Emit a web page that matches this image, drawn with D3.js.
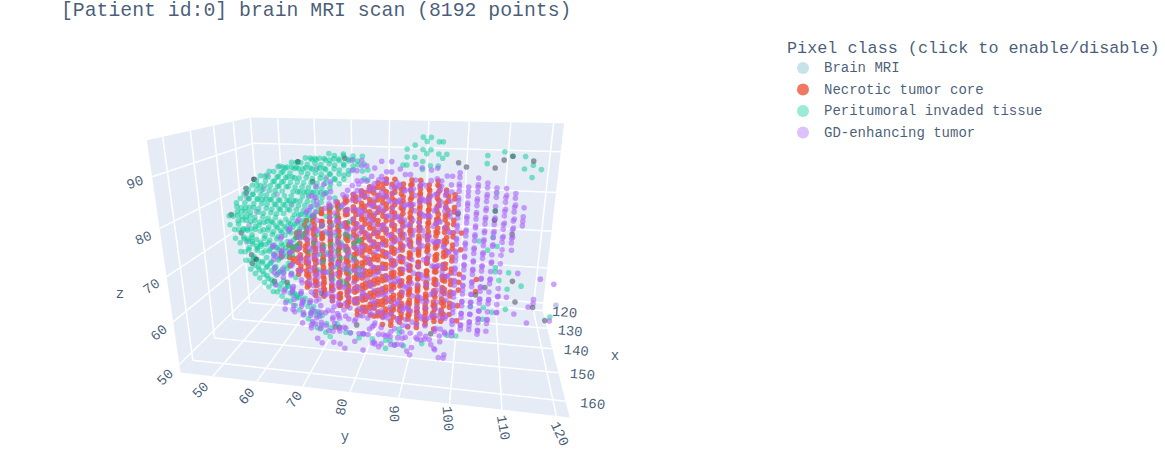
<!DOCTYPE html>
<html>
<head>
<meta charset="utf-8">
<script src="https://cdn.jsdelivr.net/npm/d3@7"></script>
<style>
  html, body { margin: 0; padding: 0; background: #fff; overflow: hidden; }
  text { font-family: "Liberation Mono", "Courier New", monospace; fill: #2a3f5f; fill-opacity: 0.85; }
</style>
</head>
<body>
<script>
const chartTitle = "[Patient id:0] brain MRI scan (8192 points)";
const legendTitle = "Pixel class (click to enable/disable)";
const classNames = ["Brain MRI", "Necrotic tumor core", "Peritumoral invaded tissue", "GD-enhancing tumor"];

const xTicks = [120, 130, 140, 150, 160];
const yTicks = [50, 60, 70, 80, 90, 100, 110, 120];
const zTicks = [50, 60, 70, 80, 90];
const xDomain = [119.5, 165];
const yDomain = [42.5, 122.4];
const zDomain = [48, 96.7];

const brainDark = [[150,66,[91]],[150,55,[69]],[150,56,[87]]];
const brainGrey = [
  [150,76,[92]],[150,54,[85,84,70,68]],[150,50,[79]],[150,52,[75]],[150,69,[87]],
  [150,59,[64]],[150,62,[64]],[150,70,[62]],[150,73,[54]],[150,74,[54]],[150,78,[55]],
  [140,106,[62]],[140,112,[64]],[140,104,[60]],[140,117,[58]],[140,120,[55]],[140,113,[59]],
  [140,94,[49]],[140,107,[80,78]],[140,111,[75]],[140,99,[79]],
  [122,100,[86]],[122,107,[86]],[122,109,[88]],[122,111,[89]],[122,116,[88]],[122,98,[87]]
];
const brainBlue = [
  [150,53,[73]],[150,59,[88]],[150,62,[90]],[150,54,[83,77]],[150,58,[85]],
  [150,66,[77]],[150,60,[72]],[150,64,[82]],[150,72,[88]],[150,56,[80]],[150,61,[84]],
  [150,68,[84]],[150,63,[76]],[150,70,[90]],[140,107,[84]],[140,122,[59]]
];

const necroticRows = [
  [135,58,[63,64,66,67]],
  [145,59,[68,69]],
  [135,60,[61,62,64,65,67,68,70,71]],
  [145,61,[66,68,69,71]],
  [135,62,[57,59,60,62,63,65,66,68,69,71,72,74]],
  [145,63,[64,65,67,68,70,71,73,74]],
  [135,64,[57,58,60,61,63,64,66,67,69,70,72,73,75]],
  [145,65,[61,62,64,65,67,68,70,71,73,74,76]],
  [135,66,[55,56,58,59,61,62,64,65,67,68,70,71,73,74,76,77]],
  [145,67,[59,60,62,63,65,66,68,69,71,72,74,75,77,78]],
  [135,68,[54,56,57,59,60,62,63,65,66,68,69,71,72,74,75,77,78]],
  [145,69,[59,61,62,64,65,67,68,70,71,73,74,76,77,79]],
  [135,70,[52,54,55,57,58,60,61,63,64,66,67,69,70,72,73,75,76,78,79]],
  [145,71,[58,59,61,62,64,65,67,68,70,71,73,74,76,77,79,80]],
  [135,72,[52,53,55,56,58,59,61,62,64,65,67,68,70,71,73,74,76,77,79,80]],
  [145,73,[57,59,60,62,63,65,66,68,69,71,72,74,75,77,78,80,81]],
  [135,74,[53,54,56,57,59,60,62,63,65,66,68,69,71,72,74,75,77,78,80,81]],
  [145,75,[58,59,61,62,64,65,67,68,70,71,73,74,76,77,79,80,82]],
  [135,76,[51,52,54,55,57,58,60,61,63,64,66,67,69,70,72,73,75,76,78,79,81,82]],
  [145,77,[55,56,58,59,61,62,64,65,67,68,70,71,73,74,76,77,79,80,82,83]],
  [135,78,[50,52,53,55,56,58,59,61,62,64,65,67,68,70,71,73,74,76,77,79,80,82,83]],
  [145,79,[56,57,59,60,62,63,65,66,68,69,71,72,74,75,77,78,80,81,83,84]],
  [135,80,[50,51,53,54,56,57,59,60,62,63,65,66,68,69,71,72,74,75,77,78,80,81,83,84]],
  [145,81,[55,57,58,60,61,63,64,66,67,69,70,72,73,75,76,78,79,81,82,84,85]],
  [135,82,[51,52,54,55,57,58,60,61,63,64,66,67,69,70,72,73,75,76,78,79,81,82,84,85]],
  [145,83,[53,55,56,58,59,61,62,64,65,67,68,70,71,73,74,76,77,79,80,82,83,85,86]],
  [135,84,[50,52,53,55,56,58,59,61,62,64,65,67,68,70,71,73,74,76,77,79,80,82,83,85]],
  [145,85,[53,54,56,57,59,60,62,63,65,66,68,69,71,72,74,75,77,78,80,81,83,84,86]],
  [135,86,[50,51,53,54,56,57,59,60,62,63,65,66,68,69,71,72,74,75,77,78,80,81,83,84]],
  [145,87,[54,55,57,58,60,61,63,64,66,67,69,70,72,73,75,76,78,79,81,82,84,85]],
  [135,88,[51,52,54,55,57,58,60,61,63,64,66,67,69,70,72,73,75,76,78,79,81,82,84,85]],
  [145,89,[53,55,56,58,59,61,62,64,65,67,68,70,71,73,74,76,77,79,80,82,83,85,86]],
  [135,90,[50,52,53,55,56,58,59,61,62,64,65,67,68,70,71,73,74,76,77,79,80,82,83,85]],
  [145,91,[53,54,56,57,59,60,62,63,65,66,68,69,71,72,74,75,77,78,80,81,83,84,86]],
  [135,92,[50,51,53,54,56,57,59,60,62,63,65,66,68,69,71,72,74,75,77,78,80,81,83,84]],
  [145,93,[54,55,57,58,60,61,63,64,66,67,69,70,72,73,75,76,78,79,81,82,84,85]],
  [135,94,[51,52,54,55,57,58,60,61,63,64,66,67,69,70,72,73,75,76,78,79,81,82,84,85]],
  [145,95,[53,55,56,58,59,61,62,64,65,67,68,70,71,73,74,76,77,79,80,82,83,85,86]],
  [135,96,[50,52,53,55,56,58,59,61,62,64,65,67,68,70,71,73,74,76,77,79,80,82,83]],
  [145,97,[56,57,59,60,62,63,65,66,68,69,71,72,74,75,77,78,80,81,83,84]],
  [135,98,[52,54,55,57,58,60,61,63,64,66,67,69,70,72,73,75,76,78,79,81,82]],
  [138,100,[52,56,60,62,64,70,74]],
  [138,104,[60,63]]
];

const peritumoralRows = [
  [151,50,[77,79]],[147,50,[76,78,80]],
  [151,51,[74,76,79]],[147,51,[73,75,77,79]],
  [151,52,[71,73,76,78,80,82]],[147,52,[70,72,75,77,79,81]],
  [151,53,[69,71,74,76,79,81,83]],[147,53,[68,72,73,75,78,80,82]],
  [151,54,[67,69,72,74,76,79,81,84]],[147,54,[66,70,71,75,77,80,83]],
  [151,55,[66,68,70,73,75,78,80,83,85]],[147,55,[65,67,71,72,76,79,82,84]],
  [151,56,[65,67,69,72,74,77,79,82,84,86]],[147,56,[64,66,70,73,75,78,81,83,85]],
  [151,57,[64,66,69,71,73,76,78,81,83,86,87]],[147,57,[63,67,70,72,75,77,80,82,85]],
  [151,58,[63,65,68,70,73,75,78,80,83,85,88]],[147,58,[62,66,69,71,74,77,79,82,84,87]],
  [151,59,[62,64,67,69,72,74,77,79,82,84,87,88]],[147,59,[61,65,68,71,73,76,78,81,83,86]],
  [151,60,[62,66,68,71,73,76,78,81,83,86,89]],[147,60,[63,65,70,72,75,77,80,82,85,87]],
  [151,61,[61,64,67,70,72,75,77,80,82,85,87,89]],[147,61,[62,66,69,71,74,76,79,81,84,86,88]],
  [151,62,[60,63,68,71,73,76,78,81,83,86,88,90]],[147,62,[61,65,70,72,75,77,80,82,85,87,89]],
  [151,63,[60,62,69,72,74,77,79,82,84,87,89,90]],[147,63,[59,64,71,73,76,78,81,83,86,88]],
  [151,64,[59,62,71,73,76,78,81,83,86,88,90]],[147,64,[60,72,75,77,80,82,85,87,89]],
  [151,65,[58,61,73,75,78,80,83,85,88,90,91]],[147,65,[59,74,77,79,82,84,87,89]],
  [151,66,[57,60,75,77,80,82,85,87,90,91]],[147,66,[58,76,79,81,84,86,89]],
  [151,67,[56,59,76,79,81,84,86,89,91]],[147,67,[57,78,80,83,85,88,90]],
  [151,68,[55,58,72,78,80,83,85,88,90,92]],[147,68,[56,79,82,84,87,89,91]],
  [151,69,[54,57,74,80,82,85,87,90,92]],[147,69,[55,70,81,84,86,89,91]],
  [151,70,[54,68,76,81,84,86,89,91,92]],[147,70,[53,72,83,85,88,90]],
  [151,71,[53,70,78,83,85,88,90,92]],[147,71,[52,66,75,84,87,89,91]],
  [151,72,[52,72,80,85,87,90,92]],[147,72,[69,77,86,88,91]],
  [151,73,[66,74,82,86,89,91,93]],[147,73,[71,79,87,90,92]],
  [151,74,[69,76,84,88,90,92]],[147,74,[64,73,81,89,91]],
  [151,75,[71,78,87,89,92]],[147,75,[67,75,88,90,92]],
  [151,76,[65,73,88,91,93]],[147,76,[70,78,89,91]],
  [151,77,[68,76,89,92]],[147,77,[73,90,92]],
  [151,78,[71,90,92]],[147,78,[66,74,91]],
  [151,79,[69,75,91]],[147,79,[89,92]],
  [150,80,[88,91]],[151,81,[88,90]],
  [122,84,[86]],[122,85,[90,88,86]],[122,87,[91,88]],[122,89,[93,90,87,85]],[122,90,[92,89]],
  [122,91,[93,90,86]],[122,93,[92,89,86]],[122,94,[92,88]],[122,95,[89]],
  [122,105,[89,87]],[122,109,[90]],[122,111,[89]],[122,114,[89,86]],[122,116,[87,84]],[122,118,[86]],
  [140,108,[56,66,72,67]],[140,106,[54,57,71]],[140,103,[57]],[140,111,[57,66,62]],[140,109,[64]],
  [140,114,[63]],[140,121,[56]],[140,100,[49]],[140,98,[49]],[140,107,[80,74]],[140,104,[73]],
  [152,85,[51,53]],[152,86,[53]],[152,87,[52]],[152,89,[52]],[152,93,[53]],[152,88,[56,55]],
  [152,82,[53]],[152,80,[54]],[152,79,[53]],[152,77,[54]],[152,76,[54]],[152,74,[56]],
  [152,70,[58]],[152,68,[58]],[152,64,[62]],[152,65,[62]],[152,63,[64]]
];

const enhancingRows = [
  [152,60,[67,70,73]],[154,61,[65,69,72,74]],[152,62,[66,71,75]],[154,63,[61,64,68,73,76]],
  [152,64,[63,67,72,77]],[154,65,[59,62,65,70,75,78]],[152,66,[60,63,68,73,79]],
  [154,67,[59,62,66,71,76,80]],[152,68,[55,58,61,65,70,75,81]],[154,69,[57,60,64,69,74,78,82]],
  [152,73,[54,57,59,63,67,72,77,83]],[154,75,[56,59,62,66,71,75,80,84]],
  [152,76,[55,58,61,65,70,74,79,83,85]],[154,70,[53,58,62,68,72,76,81,85]],
  [152,77,[54,60,64,69,73,78,82,86]],[154,71,[52,57,61,66,71,75,80,84,87]],
  [152,72,[54,59,63,68,72,77,82,85,87]],[154,74,[57,61,65,70,74,79,83,86,88]],
  [152,87,[52,56,62,67,71,76,81,84,87,88]],[154,93,[55,60,64,69,73,78,82,85,88]],
  [152,82,[52,56,59,62,66,70,75,80,83,87,89]],[154,96,[53,58,61,64,68,72,77,81,85,88,89]],
  [152,79,[54,60,65,69,74,79,82,86,88,90]],[154,90,[52,58,62,67,71,76,80,84,87,90]],
  [152,85,[54,59,64,68,73,78,81,85,88,90]],[154,98,[52,57,61,66,70,75,79,83,87,90]],
  [152,81,[54,58,63,67,72,77,81,85,88,91]],[154,94,[56,60,64,69,74,78,82,86,89,91]],
  [152,78,[52,57,62,66,71,76,80,84,87,90,92]],[154,88,[55,59,63,68,73,77,81,85,88,91]],
  [152,84,[52,56,60,65,70,75,79,83,86,89,92]],[154,97,[55,58,62,67,72,76,80,84,87,90]],
  [152,80,[54,60,64,69,74,78,82,85,88,91,92]],[154,91,[53,59,65,70,75,79,83,86,89,92]],
  [152,86,[54,61,67,72,77,81,84,87,90,92]],[154,83,[53,58,63,69,74,78,82,85,88,91]],
  [152,95,[53,60,65,71,76,80,83,86,89,91]],[154,89,[55,58,62,67,73,78,81,84,87,90]],
  [152,92,[54,60,64,69,75,79,82,85,88,91]],
  [155,62,[68,72]],[157,64,[61,65,70,74]],[155,65,[60,64,68,73]],[157,66,[62,66,71,76]],
  [155,67,[57,61,64,69,74]],[157,68,[60,63,68,73,78]],[155,69,[56,59,62,67,72,77]],
  [157,73,[58,61,65,70,75,80]],[155,75,[60,64,69,73,78,82]],[157,76,[54,57,60,63,68,72,77,81]],
  [155,70,[57,60,64,66,70,74,79,83]],[157,77,[53,58,62,67,71,76,80,84]],
  [155,71,[56,59,63,68,73,78,82,85]],[157,72,[58,61,66,70,75,79,84]],
  [155,74,[53,59,63,67,72,77,81,85]],[157,94,[57,60,64,69,74,78,83,86]],
  [155,83,[54,58,62,66,71,76,80,84,87]],[157,90,[57,61,64,68,73,78,81,85]],
  [155,79,[59,63,66,70,75,79,83,86]],[157,97,[53,58,62,67,71,72,77,84,87]],
  [155,86,[56,60,64,69,74,78,82,85]],[157,81,[53,57,61,66,70,76,80,83,87]],
  [155,92,[56,59,63,68,72,77,81,85,88]],[157,78,[60,65,69,74,79,83,86]],
  [155,89,[54,57,62,66,71,76,80,84,87]],[157,96,[55,59,64,68,73,78,82,85,88]],
  [155,84,[53,56,61,65,70,75,79,83,86,89]],[157,87,[55,58,62,67,72,77,81,84,87]],
  [155,80,[60,64,69,74,78,82,85,88]],[157,98,[53,59,62,66,71,76,80,83,86,89]],
  [155,82,[57,61,67,72,77,81,84,87]],[157,91,[53,58,63,69,74,79,82,85,88]],
  [155,85,[56,60,65,71,76,80,83,86,89]],[157,95,[57,62,67,73,78,81,84,87]],
  [155,88,[54,60,64,69,75,79,82,85,88]],[157,93,[58,62,66,71,77,80,83,86]],
  [140,99,[49,50,52,53,55,56,57,59,60,62,63,65,66,68,69,70,72,73,75,76,78,79,81,82,84,85,87,88]],
  [142,99,[51,54,58,61,64,67,71,74,77,80,83,86]],
  [140,101,[51,52,54,55,57,58,60,61,62,64,66,67,69,71,72,74,75,77,78,80,81,83,84,85]],
  [142,101,[53,56,59,63,65,68,70,73,76,79,82]],
  [140,103,[51,52,53,55,57,58,60,62,63,65,66,68,70,71,73,74,76,78,79,81,82,84,85,87]],
  [142,103,[54,56,59,61,64,67,69,72,75,77,80,83,86]],
  [140,105,[50,51,53,54,56,58,59,61,62,64,66,67,69,70,72,73,75,77,78,80,82,83,85,86]],
  [142,105,[52,55,57,60,63,65,68,71,74,76,79,81,84]],
  [140,107,[51,53,54,56,58,59,61,63,64,66,68,70,72,74,75,77,78,81,83,84,85]],
  [142,107,[55,60,65,69,73,76,79]],
  [140,109,[56,58,60,62,66,68,70,73,74,76,77,79,80,82,83,85]],
  [142,109,[57,61,72,75,78,81,84]],
  [140,111,[60,73,74,76,78,80,81,83,84]],
  [142,111,[72,75,77,79,82]],
  [140,113,[56,66,77,78,79,81]],
  [140,116,[54,58]],[140,117,[59,60]],[140,118,[65]],[140,121,[55,64]]
];

// box corners and a few tick crossings as [x, y, z, screenX, screenY], fitted to a camera below
const cameraFit = [
  [165,42.5,48,181,372],[165,122.4,48,570,417],[119.5,122.4,48,542,310],[119.5,42.5,48,264,288],
  [165,42.5,96.7,146,142],[119.5,122.4,96.7,564,123],[119.5,42.5,96.7,252,117],
  [165,50,48,213,376],[165,70,48,303,387],[165,90,48,399,398],[165,110,48,502,410],
  [165,42.5,90,152,177],[165,42.5,70,166,275],[160,42.5,48,192.7,360.7],[140,42.5,48,233,319]
];

const width = 1165, height = 450;
const colors = { brainDark: "#3d3d4d", brainGrey: "#55596a", brainBlue: "#7f95cf",
                 necrotic: "#EF553B", peritumoral: "#00cc96", enhancing: "#ab63fa" };
const legendColors = ["#71b9cb", "#EF553B", "#00cc96", "#ab63fa"];
const legendOpacity = [0.4, 0.8, 0.4, 0.4];

const xs = d3.scaleLinear().domain(xDomain).range([0, 1]);
const ys = d3.scaleLinear().domain(yDomain).range([0, 1]);
const zs = d3.scaleLinear().domain(zDomain).range([0, 1]);

// least squares for the 11 camera numbers
function solveCamera(rows) {
  const A = [], b = [];
  rows.forEach(r => {
    const X = xs(r[0]), Y = ys(r[1]), Z = zs(r[2]), u = r[3], v = r[4];
    A.push([X, Y, Z, 1, 0, 0, 0, 0, -u * X, -u * Y, -u * Z]); b.push(u);
    A.push([0, 0, 0, 0, X, Y, Z, 1, -v * X, -v * Y, -v * Z]); b.push(v);
  });
  const n = 11;
  const M = d3.range(n).map(i => d3.range(n).map(j => d3.sum(A, r => r[i] * r[j])).concat(d3.sum(A, (r, k) => r[i] * b[k])));
  for (let c = 0; c < n; c++) {
    let p = c;
    for (let r = c + 1; r < n; r++) if (Math.abs(M[r][c]) > Math.abs(M[p][c])) p = r;
    [M[c], M[p]] = [M[p], M[c]];
    for (let r = 0; r < n; r++) {
      if (r === c) continue;
      const f = M[r][c] / M[c][c];
      for (let k = c; k <= n; k++) M[r][k] -= f * M[c][k];
    }
  }
  return M.map((row, i) => row[n] / row[i]);
}
const cam = solveCamera(cameraFit);

function project(x, y, z) {
  const X = xs(x), Y = ys(y), Z = zs(z);
  const w = cam[8] * X + cam[9] * Y + cam[10] * Z + 1;
  return [(cam[0] * X + cam[1] * Y + cam[2] * Z + cam[3]) / w,
          (cam[4] * X + cam[5] * Y + cam[6] * Z + cam[7]) / w];
}

const svg = d3.select("body").append("svg").attr("width", width).attr("height", height);

const [x0, x1] = xDomain, [y0, y1] = yDomain, [z0, z1] = zDomain;
const walls = [
  [[x0, y0, z0], [x1, y0, z0], [x1, y1, z0], [x0, y1, z0]],
  [[x0, y0, z0], [x1, y0, z0], [x1, y0, z1], [x0, y0, z1]],
  [[x0, y0, z0], [x0, y1, z0], [x0, y1, z1], [x0, y0, z1]]
];
svg.append("g").selectAll("polygon").data(walls).join("polygon")
  .attr("points", d => d.map(p => project(...p).join(",")).join(" "))
  .attr("fill", "#E5ECF6");

const gridLines = [];
xTicks.forEach(t => {
  gridLines.push([[t, y0, z0], [t, y1, z0]]);
  gridLines.push([[t, y0, z0], [t, y0, z1]]);
});
yTicks.forEach(t => {
  gridLines.push([[x0, t, z0], [x1, t, z0]]);
  gridLines.push([[x0, t, z0], [x0, t, z1]]);
});
zTicks.forEach(t => {
  gridLines.push([[x0, y0, t], [x1, y0, t]]);
  gridLines.push([[x0, y0, t], [x0, y1, t]]);
});
svg.append("g").selectAll("line").data(gridLines).join("line")
  .attr("x1", d => project(...d[0])[0]).attr("y1", d => project(...d[0])[1])
  .attr("x2", d => project(...d[1])[0]).attr("y2", d => project(...d[1])[1])
  .attr("stroke", "#fff").attr("stroke-width", 1.5);

// flatten the rows and paint back to front
function points(rows, kind) {
  return rows.flatMap(r => r[2].map(z => ({ x: r[0], y: r[1], z: z, kind: kind })));
}
const opacity = { brainDark: 0.75, brainGrey: 0.6, brainBlue: 0.5, necrotic: 0.85, peritumoral: 0.5, enhancing: 0.6 };
const allPoints = [].concat(
  points(necroticRows, "necrotic"), points(peritumoralRows, "peritumoral"), points(enhancingRows, "enhancing"),
  points(brainBlue, "brainBlue"), points(brainGrey, "brainGrey"), points(brainDark, "brainDark")
).sort((a, b) => d3.ascending(a.x, b.x));

svg.append("g").selectAll("circle").data(allPoints).join("circle")
  .attr("cx", d => project(d.x, d.y, d.z)[0])
  .attr("cy", d => project(d.x, d.y, d.z)[1])
  .attr("r", 2.8)
  .attr("fill", d => colors[d.kind])
  .attr("fill-opacity", d => opacity[d.kind]);

// tick labels: the 3d text keeps turning along each axis
const xLabelOffset = [[22, 2], [23, 3], [24, 2], [24, 2], [27, 3]];
const xLabelAngle = [4, 5, 5, 5, 5];
const yLabelOffset = [[-12, 14], [-10, 15], [-8, 13], [-8, 15], [-5, 16], [-2, 15], [1, 18], [3, 18]];
const yLabelAngle = [-45, -50, -55, -80, 88, 85, 80, 65];
const zLabelOffset = [[-14, 13], [-14, 11], [-15, 10], [-16, 10], [-17, 6]];
const zLabelAngle = [-45, -40, -35, -22, -20];

function tickLabels(ticks, anchor, offsets, angles) {
  svg.append("g").selectAll("text").data(ticks).join("text")
    .attr("transform", (d, i) => {
      const p = project(...anchor(d));
      return `translate(${p[0] + offsets[i][0]},${p[1] + offsets[i][1]}) rotate(${angles[i]})`;
    })
    .attr("text-anchor", "middle").attr("dominant-baseline", "central")
    .attr("font-size", 14).text(d => d);
}
tickLabels(xTicks, t => [t, y1, z0], xLabelOffset, xLabelAngle);
tickLabels(yTicks, t => [x1, t, z0], yLabelOffset, yLabelAngle);
tickLabels(zTicks, t => [x1, y0, t], zLabelOffset, zLabelAngle);

svg.append("text").attr("x", 615).attr("y", 356).attr("text-anchor", "middle").attr("dominant-baseline", "central").attr("font-size", 14).text("x");
svg.append("text").attr("x", 345).attr("y", 437).attr("text-anchor", "middle").attr("dominant-baseline", "central").attr("font-size", 14).text("y");
svg.append("text").attr("x", 120).attr("y", 294).attr("text-anchor", "middle").attr("dominant-baseline", "central").attr("font-size", 14).text("z");

svg.append("text").attr("x", 61).attr("y", 16).attr("font-size", 19.8).text(chartTitle);

svg.append("text").attr("x", 787).attr("y", 53).attr("font-size", 16.8).text(legendTitle);
const legend = svg.append("g").selectAll("g").data(classNames).join("g")
  .attr("transform", (d, i) => `translate(0,${68 + i * 21.5})`);
legend.append("circle").attr("cx", 803).attr("cy", 0).attr("r", 6)
  .attr("fill", (d, i) => legendColors[i]).attr("fill-opacity", (d, i) => legendOpacity[i]);
legend.append("text").attr("x", 824).attr("dominant-baseline", "central").attr("font-size", 14).text(d => d);
</script>
</body>
</html>
